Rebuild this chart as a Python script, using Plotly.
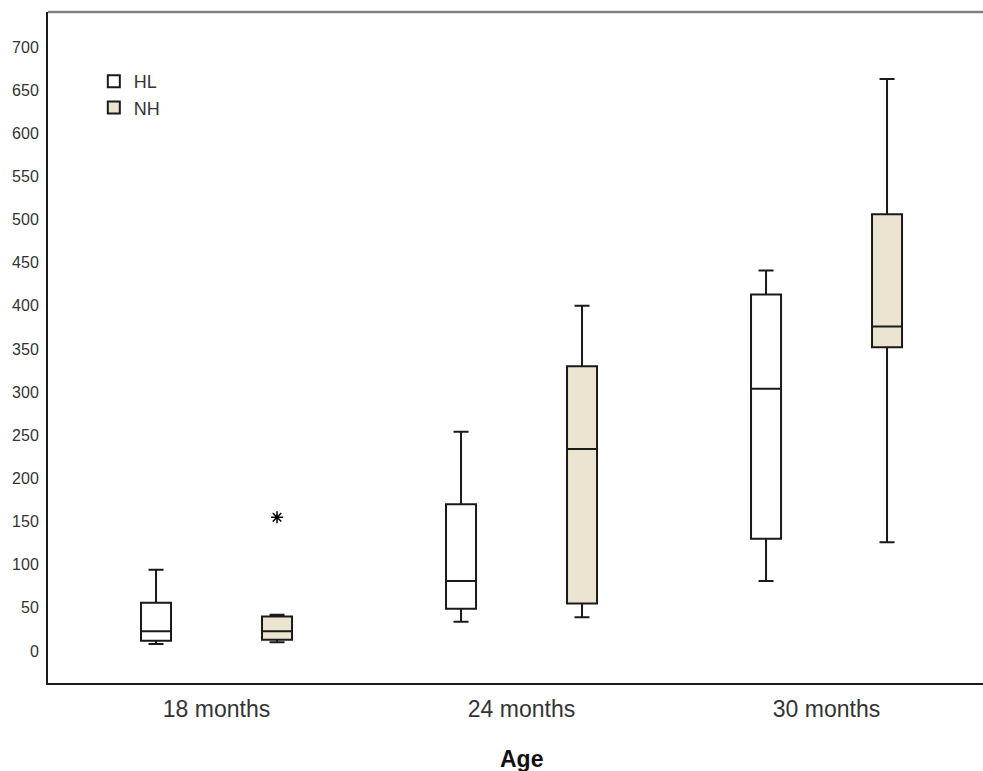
import plotly.graph_objects as go

categories = ["18 months", "24 months", "30 months"]

hl_lower = [8, 34, 81]
hl_q1 = [12, 49, 130]
hl_median = [23, 81, 304]
hl_q3 = [56, 170, 413]
hl_upper = [94, 254, 441]
hl_outliers = [[], [], []]

nh_lower = [10, 39, 126]
nh_q1 = [13, 55, 352]
nh_median = [23, 234, 376]
nh_q3 = [40, 330, 506]
nh_upper = [42, 400, 663]
nh_outliers = [[155], [], []]

y_ticks = list(range(0, 701, 50))

fig = go.Figure()

def add_series(name, lower, q1, med, q3, upper, outl, fill):
    samples = [[lo, up] + list(o) for lo, up, o in zip(lower, upper, outl)]
    fig.add_trace(go.Box(
        name=name,
        x=categories,
        y=samples,
        lowerfence=lower, q1=q1, median=med, q3=q3, upperfence=upper,
        fillcolor=fill,
        line=dict(color="#1a1a1a", width=2),
        whiskerwidth=0.5,
        boxpoints="outliers",
        jitter=0, pointpos=0,
        marker=dict(symbol="asterisk-open", size=10, color="black",
                    line=dict(color="black", width=1.5)),
        offsetgroup=name,
        hoverinfo="skip",
    ))

add_series("HL", hl_lower, hl_q1, hl_median, hl_q3, hl_upper, hl_outliers, "#FFFFFF")
add_series("NH", nh_lower, nh_q1, nh_median, nh_q3, nh_upper, nh_outliers, "#EAE4D0")

fig.update_layout(
    width=983, height=771,
    margin=dict(l=48, r=0, t=12, b=88),
    paper_bgcolor="white", plot_bgcolor="white",
    boxmode="group", boxgap=0.2066, boxgroupgap=0.752,
    font=dict(family="Liberation Sans, Arial, sans-serif", color="#333333"),
    showlegend=True,
    legend=dict(x=0.049, y=0.924, xanchor="left", yanchor="top",
                bgcolor="rgba(0,0,0,0)", font=dict(size=18, color="#333333"),
                tracegroupgap=0, itemwidth=30),
    xaxis=dict(
        type="category", categoryorder="array", categoryarray=categories,
        range=[-0.5525, 2.513],
        showline=True, linecolor="#1a1a1a", linewidth=2,
        showgrid=False, zeroline=False, ticks="",
        ticklabelstandoff=4,
        tickfont=dict(size=23, color="#333333"),
    ),
    yaxis=dict(
        range=[-37.1, 740.5],
        tickvals=y_ticks,
        showline=True, linecolor="#1a1a1a", linewidth=2,
        showgrid=False, zeroline=False, ticks="",
        ticklabelstandoff=4,
        tickfont=dict(size=16, color="#333333"),
    ),
    shapes=[dict(type="line", xref="paper", yref="paper", x0=0, x1=1, y0=1, y1=1,
                 line=dict(color="#808080", width=2.5))],
    annotations=[dict(text="<b>Age</b>", xref="paper", yref="paper",
                      x=0.506, y=-0.114, xanchor="center", yanchor="middle",
                      showarrow=False, font=dict(size=23, color="#111111"))],
)

fig.write_html("out.html",
               config={"displayModeBar": False},
               post_script="document.body.style.margin='0';document.body.style.overflow='hidden';")
